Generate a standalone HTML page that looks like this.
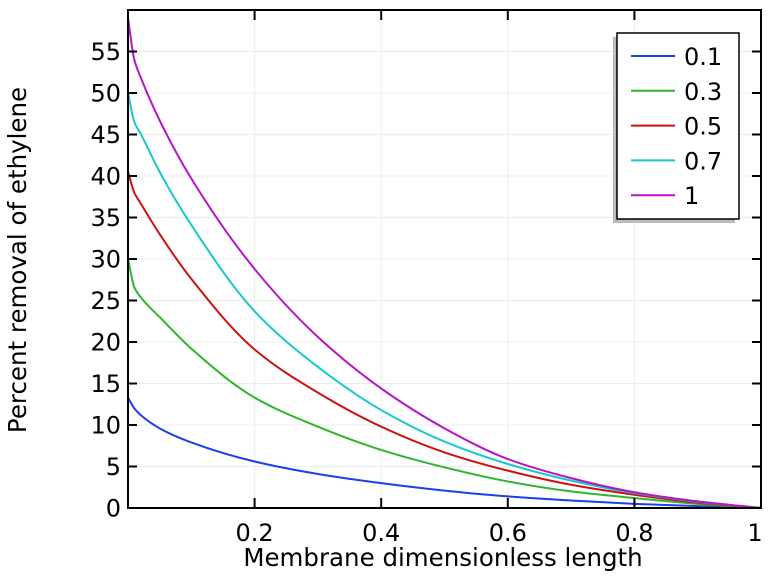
<!DOCTYPE html>
<html><head><meta charset="utf-8"><style>
body{margin:0;background:#fff;}
svg{display:block;font-family:"DejaVu Sans","Liberation Sans",sans-serif;}
</style></head><body>
<svg id="chart" width="780" height="577" viewBox="0 0 780 577" xmlns="http://www.w3.org/2000/svg">
<g id="grid"></g>
<g id="series"></g>
<g id="axes"></g>
<text x="443" y="566" font-size="24.5" text-anchor="middle">Membrane dimensionless length</text>
<text transform="translate(26,260) rotate(-90)" font-size="24.5" text-anchor="middle">Percent removal of ethylene</text>
<g id="legend"></g>
</svg>
<script>
const xs = [0, 0.01, 0.02, 0.05, 0.1, 0.2, 0.3, 0.4, 0.5, 0.6, 0.7, 0.8, 0.9, 1];
const s01 = [13.3, 12.0, 11.2, 9.6, 7.9, 5.6, 4.1, 3.0, 2.1, 1.4, 0.9, 0.5, 0.22, 0];
const s03 = [30, 26.6, 25.4, 23.0, 19.2, 13.3, 9.8, 7.0, 4.9, 3.2, 2.0, 1.2, 0.5, 0];
const s05 = [40.5, 38.0, 36.7, 33.0, 27.6, 19.1, 13.9, 9.8, 6.7, 4.5, 2.8, 1.6, 0.65, 0];
const s07 = [50, 46.5, 45.1, 40.5, 34.1, 23.7, 17.0, 11.8, 8.0, 5.3, 3.3, 1.8, 0.75, 0];
const s10 = [59, 54.0, 51.9, 46.7, 39.7, 28.8, 20.6, 14.4, 9.6, 5.9, 3.6, 1.9, 0.8, 0];
const seriesNames = ["0.1", "0.3", "0.5", "0.7", "1"];
const seriesColors = ["#1f3fe6", "#2db52d", "#cc1111", "#17c8cc", "#b614c4"];
const xTicks = [0.2, 0.4, 0.6, 0.8, 1];
const xTickLabels = ["0.2", "0.4", "0.6", "0.8", "1"];
const yTicks = [0, 5, 10, 15, 20, 25, 30, 35, 40, 45, 50, 55];

const L=128, R=761, T=10, B=508, XMAX=1, YMAX=60;
const sx = v => L + v/XMAX*(R-L);
const sy = v => B - v/YMAX*(B-T);
const NS="http://www.w3.org/2000/svg";
function mk(tag, attrs, parent){const e=document.createElementNS(NS,tag);for(const k in attrs)e.setAttribute(k,attrs[k]);parent.appendChild(e);return e;}
const grid=document.getElementById('grid'), axes=document.getElementById('axes'), series=document.getElementById('series'), legend=document.getElementById('legend');

xTicks.forEach((t,i)=>{
  const gl=mk('line',{x1:sx(t),x2:sx(t),y1:T,y2:B,stroke:'#ececec','stroke-width':1},grid);
  
  
  const tb=mk('line',{x1:sx(t),x2:sx(t),y1:B,y2:B-10,stroke:'#000','stroke-width':2},axes);
  
  
  const tt=mk('line',{x1:sx(t),x2:sx(t),y1:T,y2:T+10,stroke:'#000','stroke-width':2},axes);
  
  
  const lb=mk('text',{x:sx(t)-(t===1?6:0),y:541,'font-size':24,'text-anchor':'middle'},axes);
  lb.textContent=xTickLabels[i];
  
  
});
yTicks.forEach(t=>{
  const gl=mk('line',{x1:L,x2:R,y1:sy(t),y2:sy(t),stroke:'#ececec','stroke-width':1},grid);
  
  
  const tl=mk('line',{x1:L,x2:L+9,y1:sy(t),y2:sy(t),stroke:'#000','stroke-width':2},axes);
  
  
  const tr=mk('line',{x1:R-9,x2:R,y1:sy(t),y2:sy(t),stroke:'#000','stroke-width':2},axes);
  
  
  const lb=mk('text',{x:L-7,y:sy(t)+8.5,'font-size':24,'text-anchor':'end'},axes);
  lb.textContent=String(t);
  
  
});
const frame=mk('rect',{x:L,y:T,width:R-L,height:B-T,fill:'none',stroke:'#000','stroke-width':2},axes);



function pathFor(vals){
  const n=xs.length, d=[], m=[];
  for(let i=0;i<n-1;i++) d.push((vals[i+1]-vals[i])/(xs[i+1]-xs[i]));
  m[0]=d[0]; m[n-1]=d[n-2];
  for(let i=1;i<n-1;i++){
    const h0=xs[i]-xs[i-1], h1=xs[i+1]-xs[i];
    if(d[i-1]*d[i]<=0){m[i]=0;continue;}
    const w1=2*h1+h0, w2=h1+2*h0;
    m[i]=(w1+w2)/(w1/d[i-1]+w2/d[i]);
  }
  let p='M'+sx(xs[0])+','+sy(vals[0]);
  for(let i=0;i<n-1;i++){
    const h=xs[i+1]-xs[i];
    const c1x=xs[i]+h/3, c1y=vals[i]+m[i]*h/3;
    const c2x=xs[i+1]-h/3, c2y=vals[i+1]-m[i+1]*h/3;
    p+=' C'+sx(c1x)+','+sy(c1y)+' '+sx(c2x)+','+sy(c2y)+' '+sx(xs[i+1])+','+sy(vals[i+1]);
  }
  return p;
}
[s01,s03,s05,s07,s10].forEach((vals,i)=>{
  const pth=mk('path',{d:pathFor(vals),fill:'none',stroke:seriesColors[i],'stroke-width':2},series);
  
  
});

const sh=mk('rect',{x:613,y:37,width:122,height:186,fill:'#bbb'},legend);


const box=mk('rect',{x:617,y:33,width:122,height:186,fill:'#fff',stroke:'#000','stroke-width':1.5},legend);


seriesNames.forEach((n,i)=>{
  const y=56+i*34.8;
  const ln=mk('line',{x1:631,x2:675,y1:y,y2:y,stroke:seriesColors[i],'stroke-width':2},legend);
  
  
  const tx=mk('text',{x:684,y:y+9,'font-size':24},legend);
  tx.textContent=n;
  
  
});
</script>
</body></html>
